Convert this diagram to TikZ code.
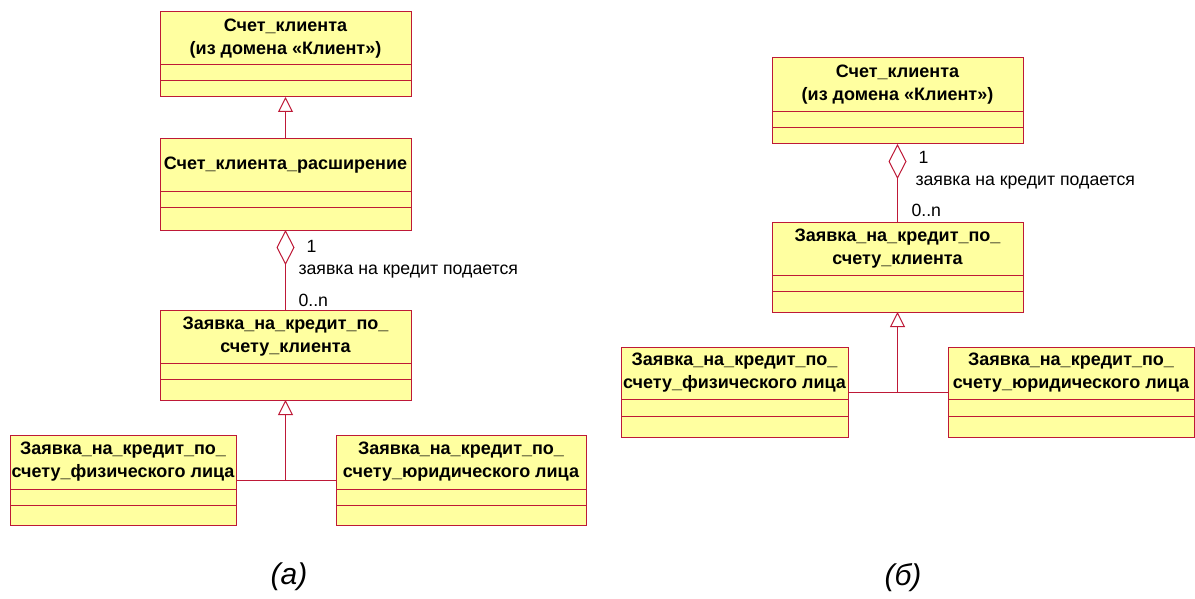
\documentclass[tikz,border=0pt]{standalone}
\usepackage{fontspec}
\setmainfont{Liberation Sans}
\usepackage{tikz}
\usetikzlibrary{arrows.meta,positioning,calc}

\definecolor{roseline}{RGB}{190,25,55}
\definecolor{rosefill}{RGB}{255,255,160}

% class box: name, left, top, right, line 1, line 2, bottom, title
\newcommand{\umlclass}[8]{%
  \node[classbox, anchor=north west, minimum width={(#4-#2)*1pt}, minimum height={(#7-#3)*1pt}] (#1) at (#2,#3) {};
  \draw[roseline] (#2,#5) -- (#4,#5) (#2,#6) -- (#4,#6);
  \node[classname] (#1-title) at ({(#2+#4)/2},{(#3+#5)/2}) {#8};
}

\begin{document}
\begin{tikzpicture}[x=1pt, y=-1pt, line width=1pt,
    classbox/.style={draw=roseline, fill=rosefill, rectangle, inner sep=0pt, outer sep=0pt},
    classname/.style={font=\bfseries\fontsize{18}{23}\selectfont, align=center, inner sep=0pt},
    rolelabel/.style={font=\fontsize{17.7}{20}\selectfont, anchor=west, inner sep=0pt},
    caption/.style={font=\itshape\fontsize{30}{34}\selectfont, inner sep=0pt},
    gen/.style={draw=roseline, -{Triangle[length=15pt, width=15pt, fill=white]}},
    aggr/.style={draw=roseline, -{Diamond[length=35pt, width=18pt, fill=white]}}]
  \useasboundingbox (0,0) rectangle (1195,599);

  % (a) with the extension class
  \umlclass{acctA}{160}{12}{411}{65}{81}{97}{Счет\_клиента\\(из домена «Клиент»)}
  \umlclass{ext}{160}{139}{411}{192}{208}{230}{Счет\_клиента\_расширение}
  \umlclass{reqA}{160}{310}{411}{363}{379}{400}{Заявка\_на\_кредит\_по\_\\счету\_клиента}
  \umlclass{physA}{10}{435}{236}{489}{505}{525}{Заявка\_на\_кредит\_по\_\\счету\_физического лица}
  \umlclass{jurA}{336}{435}{586}{489}{505}{525}{Заявка\_на\_кредит\_по\_\\счету\_юридического лица}

  \draw[gen] (ext.north) -- (acctA.south);
  \draw[aggr] (reqA.north) -- (ext.south);
  \node[rolelabel] (oneA) at (306,246) {1};
  \node[rolelabel] (nameA) at (298,272) {заявка на кредит подается};
  \node[rolelabel] (manyA) at (298,300) {0..n};

  \coordinate (splitA) at (reqA.south |- physA.east);
  \draw[roseline] (physA.east) -- (jurA.west);
  \draw[gen] (splitA) -- (reqA.south);

  % (b) without it
  \umlclass{acctB}{772}{58}{1023}{112}{128}{144}{Счет\_клиента\\(из домена «Клиент»)}
  \umlclass{reqB}{772}{222}{1023}{275}{291}{312}{Заявка\_на\_кредит\_по\_\\счету\_клиента}
  \umlclass{physB}{621}{347}{848}{399}{416}{437}{Заявка\_на\_кредит\_по\_\\счету\_физического лица}
  \umlclass{jurB}{948}{347}{1194}{399}{416}{437}{Заявка\_на\_кредит\_по\_\\счету\_юридического лица}

  \draw[aggr] (reqB.north) -- (acctB.south);
  \node[rolelabel] (oneB) at (918,157) {1};
  \node[rolelabel] (nameB) at (915,183) {заявка на кредит подается};
  \node[rolelabel] (manyB) at (911,210) {0..n};

  \coordinate (splitB) at (reqB.south |- physB.east);
  \draw[roseline] (physB.east) -- (jurB.west);
  \draw[gen] (splitB) -- (reqB.south);

  \node[caption] (capA) at (289,577) {(а)};
  \node[caption] (capB) at (903,578) {(б)};
\end{tikzpicture}
\end{document}
